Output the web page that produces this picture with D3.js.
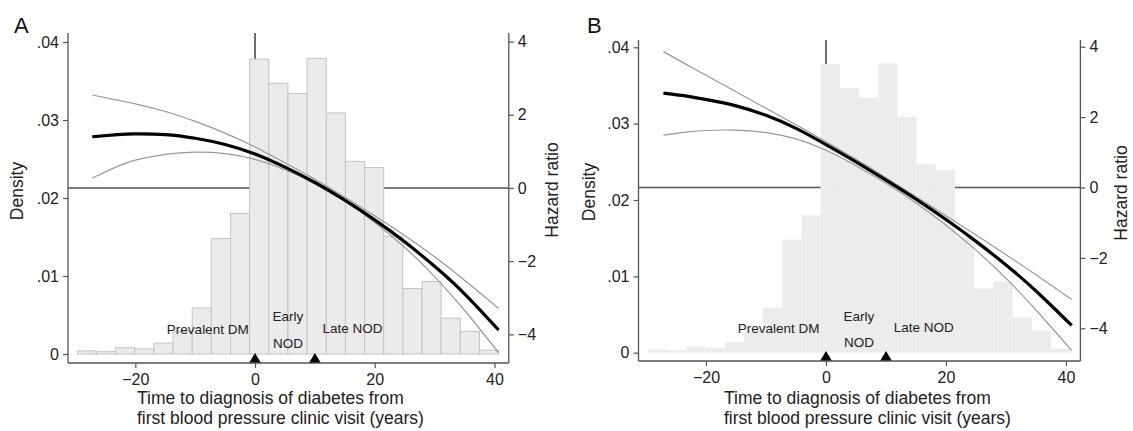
<!DOCTYPE html>
<html>
<head>
<meta charset="utf-8">
<script src="https://cdn.jsdelivr.net/npm/d3@7"></script>
<style>
  body { margin: 0; background: #fff; }
  svg { display: block; font-family: "Liberation Sans", Arial, Helvetica, sans-serif; }
  .tick text { fill: #222; }
  .tick line { stroke: #555; stroke-width: 1.2; }
</style>
</head>
<body>
<main></main>
<script>
// histogram of years from first clinic visit to diabetes diagnosis (same in A and B)
const binEdges = [-29.7, -26.5, -23.3, -20.1, -16.9, -13.7, -10.5, -7.3, -4.1, -0.9, 2.3, 5.5,
  8.7, 11.9, 15.1, 18.3, 21.5, 24.7, 27.9, 31.1, 34.3, 37.5, 40.7]
const density = [0.0004, 0.0003, 0.0008, 0.00065, 0.0014, 0.0029, 0.0059, 0.0148, 0.018, 0.0378,
  0.0347, 0.0334, 0.0379, 0.0309, 0.0247, 0.0239, 0.0151, 0.0084, 0.0093, 0.0046, 0.0029, 0.0005]

const densityTicks = [0, 0.01, 0.02, 0.03, 0.04]
const densityTickLabels = ["0", ".01", ".02", ".03", ".04"]
const hazardTicks = [-4, -2, 0, 2, 4]
const hazardTickLabels = ["\u22124", "\u22122", "0", "2", "4"]
const yearTicks = [-20, 0, 20, 40]
const yearTickLabels = ["\u221220", "0", "20", "40"]

// spline fits (log hazard ratio) with confidence band
const yearsA = [-27.2, -23, -20, -15, -10, -5, 0, 5, 10, 15, 20, 25, 30, 35, 40.7]
const fitA = [1.40, 1.46, 1.48, 1.46, 1.36, 1.19, 0.93, 0.57, 0.15, -0.33, -0.87, -1.47, -2.14, -2.89, -3.88]
const upperA = [2.54, 2.40, 2.30, 2.09, 1.82, 1.50, 1.12, 0.69, 0.24, -0.25, -0.76, -1.30, -1.88, -2.52, -3.29]
const lowerA = [0.27, 0.59, 0.76, 0.92, 0.98, 0.94, 0.78, 0.50, 0.12, -0.36, -0.94, -1.62, -2.42, -3.34, -4.50]

const yearsB = [-27.1, -23, -20, -15, -10, -5, 0, 5, 10, 15, 20, 25, 30, 35, 40.95]
const fitB = [2.68, 2.59, 2.50, 2.32, 2.05, 1.68, 1.22, 0.73, 0.21, -0.33, -0.91, -1.53, -2.20, -2.94, -3.92]
const upperB = [3.86, 3.47, 3.19, 2.72, 2.25, 1.78, 1.30, 0.80, 0.28, -0.26, -0.80, -1.35, -1.91, -2.48, -3.18]
const lowerB = [1.49, 1.58, 1.62, 1.63, 1.56, 1.38, 1.06, 0.62, 0.12, -0.44, -1.07, -1.78, -2.58, -3.48, -4.63]

// period cut points and their labels
const markerYears = [0, 10]
const periodLabels = ["Prevalent DM", "Early", "NOD", "Late NOD"]
const periodLabelYears = [-7.9, 5.5, 5.5, 16.3]
const periodLabelDensity = [0.0026, 0.0042, 0.0008, 0.0027]

const panels = [
  {
    letter: "A", years: yearsA, fit: fitA, upper: upperA, lower: lowerA, outlined: true,
    left: 68, right: 508.8, top: 33, base: 363, d0: 354, d4: 42, h0: 188, h4: 41.6,
    titleX: 137, densX: 23, densY: 191, hazX: 558, hazY: 190, letterX: 14,
  },
  {
    letter: "B", years: yearsB, fit: fitB, upper: upperB, lower: lowerB, outlined: false,
    left: 638.5, right: 1080.4, top: 40, base: 361, d0: 352.7, d4: 47.3, h0: 187.5, h4: 46.7,
    titleX: 724, densX: 595, densY: 192, hazX: 1127, hazY: 193, letterX: 587,
  },
]

const w = 1133
const h = 431

const svg = d3.select("main").append("svg").attr("width", w).attr("height", h)

const drawPanel = (p) => {
  const g = svg.append("g")

  const x = d3.scaleLinear().domain([-31.25, 42.4]).range([p.left, p.right])
  const yD = d3.scaleLinear().domain([0, 0.04]).range([p.d0, p.d4])
  const yH = d3.scaleLinear().domain([0, 4]).range([p.h0, p.h4])

  // reference lines (behind the bars)
  g.append("line")
    .attr("x1", p.left).attr("x2", p.right)
    .attr("y1", yH(0)).attr("y2", yH(0))
    .attr("stroke", "#555").attr("stroke-width", 1.5)
  g.append("line")
    .attr("x1", x(0)).attr("x2", x(0))
    .attr("y1", p.top).attr("y2", yD(0))
    .attr("stroke", "#333").attr("stroke-width", 1.4)

  // histogram
  g.selectAll("rect.bar")
    .data(density)
    .enter()
    .append("rect")
    .attr("class", "bar")
    .attr("x", (d, i) => x(binEdges[i]))
    .attr("width", (d, i) => x(binEdges[i + 1]) - x(binEdges[i]))
    .attr("y", (d) => yD(d))
    .attr("height", (d) => yD(0) - yD(d))
    .attr("fill", p.outlined ? "#ebebeb" : "#ececec")
    .attr("stroke", p.outlined ? "#c4c4c4" : "none")
    .attr("stroke-width", 1)

  // hazard curves
  const line = d3.line()
    .x((d, i) => x(p.years[i]))
    .y((d) => yH(d))
    .curve(d3.curveNatural)

  ;[p.upper, p.lower].forEach((s) => {
    g.append("path").attr("d", line(s))
      .attr("fill", "none").attr("stroke", "#999").attr("stroke-width", 1.2)
  })
  g.append("path").attr("d", line(p.fit))
    .attr("fill", "none").attr("stroke", "#000").attr("stroke-width", 3.2)

  // period labels
  g.selectAll("text.period")
    .data(periodLabels)
    .enter()
    .append("text")
    .attr("class", "period")
    .attr("x", (d, i) => x(periodLabelYears[i]))
    .attr("y", (d, i) => yD(periodLabelDensity[i]))
    .attr("text-anchor", "middle")
    .attr("font-size", 13.5)
    .attr("fill", "#222")
    .text((d) => d)

  // markers on the time axis
  g.selectAll("path.marker")
    .data(markerYears)
    .enter()
    .append("path")
    .attr("class", "marker")
    .attr("d", (d) => `M${x(d) - 6},${p.base} L${x(d) + 6},${p.base} L${x(d)},${p.base - 10} Z`)
    .attr("fill", "#000")

  // axes
  const yAxis = d3.axisLeft(yD).tickValues(densityTicks)
    .tickFormat((d, i) => densityTickLabels[i]).tickSize(5).tickPadding(4)
  const hAxis = d3.axisRight(yH).tickValues(hazardTicks)
    .tickFormat((d, i) => hazardTickLabels[i]).tickSize(5).tickPadding(4)
  const xAxis = d3.axisBottom(x).tickValues(yearTicks)
    .tickFormat((d, i) => yearTickLabels[i]).tickSize(5).tickPadding(6)

  g.append("g").attr("transform", `translate(${p.left},0)`).call(yAxis)
  g.append("g").attr("transform", `translate(${p.right},0)`).call(hAxis)
  g.append("g").attr("transform", `translate(0,${p.base})`).call(xAxis)
  g.selectAll(".domain").remove()
  g.selectAll(".tick text").attr("font-size", 16).attr("font-family", null)

  const axisLine = (x1, y1, x2, y2) =>
    g.append("line").attr("x1", x1).attr("y1", y1).attr("x2", x2).attr("y2", y2)
      .attr("stroke", "#555").attr("stroke-width", 1.3)
  axisLine(p.left, p.top, p.left, p.base)
  axisLine(p.right, p.top, p.right, p.base)
  axisLine(p.left, p.base, p.right, p.base)

  // titles
  g.append("text")
    .attr("transform", `translate(${p.densX},${p.densY}) rotate(-90)`)
    .attr("text-anchor", "middle").attr("font-size", 17.5).attr("fill", "#222")
    .text("Density")
  g.append("text")
    .attr("transform", `translate(${p.hazX},${p.hazY}) rotate(-90)`)
    .attr("text-anchor", "middle").attr("font-size", 17.5).attr("fill", "#222")
    .text("Hazard ratio")
  const title = g.append("text").attr("font-size", 17.5).attr("fill", "#222")
  title.append("tspan").attr("x", p.titleX).attr("y", 404)
    .text("Time to diagnosis of diabetes from")
  title.append("tspan").attr("x", p.titleX).attr("y", 424)
    .text("first blood pressure clinic visit (years)")

  g.append("text")
    .attr("x", p.letterX).attr("y", 33)
    .attr("font-size", 22).attr("fill", "#111")
    .text(p.letter)
}

panels.forEach(drawPanel)
</script>
</body>
</html>
